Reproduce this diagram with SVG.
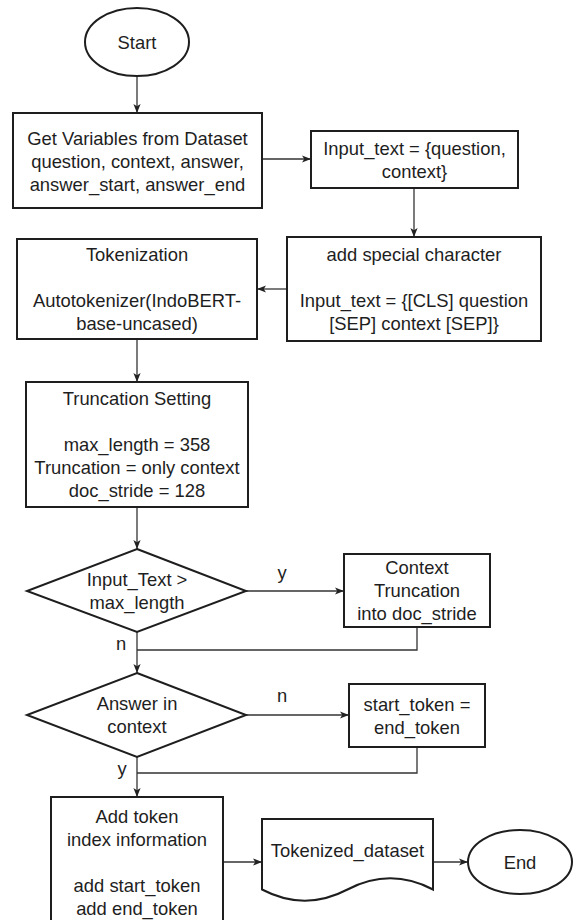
<svg xmlns="http://www.w3.org/2000/svg" width="574" height="920" viewBox="0 0 574 920">
  <style>
    .shape { fill: #ffffff; stroke: #1e1e1e; stroke-width: 2; }
    .edge { fill: none; stroke: #333333; stroke-width: 1.3; }
    .arrow { fill: none; stroke: #333333; stroke-width: 1.3; marker-end: url(#arr); }
    text { font-family: "Liberation Sans", Arial, sans-serif; font-size: 18.4px; fill: #1e1e1e; text-anchor: middle; }
    .lbl { text-anchor: middle; }
  </style>
  <defs>
    <marker id="arr" viewBox="0 0 10 10" refX="10" refY="5" markerWidth="9" markerHeight="9" markerUnits="userSpaceOnUse" orient="auto">
      <path d="M0,1 L10,5 L0,9 L2.5,5 z" fill="#222222"/>
    </marker>
  </defs>
  <rect width="574" height="920" fill="#ffffff"/>

  <!-- connectors -->
  <g id="connectors">
    <path class="arrow" d="M137,76 L137,113"/>
    <path class="arrow" d="M262,159 L311,159"/>
    <path class="arrow" d="M414,188 L414,237"/>
    <path class="arrow" d="M287,289 L257,289"/>
    <path class="arrow" d="M137,339 L137,382"/>
    <path class="arrow" d="M137,507 L137,549"/>
    <path class="arrow" d="M246,591 L344,591"/>
    <path class="edge" d="M417,627 L417,650 L137,650"/>
    <path class="arrow" d="M137,632 L137,673"/>
    <path class="arrow" d="M246,715 L349,715"/>
    <path class="edge" d="M417,747 L417,773 L137,773"/>
    <path class="arrow" d="M137,757 L137,797"/>
    <path class="arrow" d="M223,862 L262,862"/>
    <path class="arrow" d="M433,862 L468,862"/>
    <text x="282" y="579">y</text>
    <text x="121" y="650">n</text>
    <text x="282" y="702">n</text>
    <text x="122" y="775">y</text>
  </g>

  <g id="start">
    <ellipse class="shape" cx="137" cy="42" rx="52" ry="34"/>
    <text x="137" y="48.6">Start</text>
  </g>

  <g id="get-variables">
    <rect class="shape" x="13" y="113" width="249" height="95"/>
    <text x="137.5" y="144.6">Get Variables from Dataset</text>
    <text x="137.5" y="167.6">question, context, answer,</text>
    <text x="137.5" y="190.6">answer_start, answer_end</text>
  </g>

  <g id="input-text">
    <rect class="shape" x="311" y="131" width="207" height="57"/>
    <text x="414.5" y="154.6">Input_text = {question,</text>
    <text x="414.5" y="177.6">context}</text>
  </g>

  <g id="special-character">
    <rect class="shape" x="287" y="237" width="254" height="104"/>
    <text x="414" y="261.1">add special character</text>
    <text x="414" y="307.1">Input_text = {[CLS] question</text>
    <text x="414" y="330.1">[SEP] context [SEP]}</text>
  </g>

  <g id="tokenization">
    <rect class="shape" x="17" y="239" width="240" height="100"/>
    <text x="137" y="261.1">Tokenization</text>
    <text x="137" y="307.1">Autotokenizer(IndoBERT-</text>
    <text x="137" y="330.1">base-uncased)</text>
  </g>

  <g id="truncation-setting">
    <rect class="shape" x="26" y="382" width="222" height="125"/>
    <text x="137" y="405.1">Truncation Setting</text>
    <text x="137" y="451.1">max_length = 358</text>
    <text x="137" y="474.1">Truncation = only context</text>
    <text x="137" y="497.1">doc_stride = 128</text>
  </g>

  <g id="length-check">
    <polygon class="shape" points="137,549 246,591 137,632 27,591"/>
    <text x="137" y="585.6">Input_Text &gt;</text>
    <text x="137" y="608.6">max_length</text>
  </g>

  <g id="context-truncation">
    <rect class="shape" x="344" y="554" width="146" height="73"/>
    <text x="417" y="574.1">Context</text>
    <text x="417" y="597.1">Truncation</text>
    <text x="417" y="620.1">into doc_stride</text>
  </g>

  <g id="answer-check">
    <polygon class="shape" points="137,673 246,715 137,757 27,715"/>
    <text x="137" y="710.1">Answer in</text>
    <text x="137" y="733.1">context</text>
  </g>

  <g id="token-equal">
    <rect class="shape" x="349" y="684" width="136" height="63"/>
    <text x="417" y="710.6">start_token =</text>
    <text x="417" y="733.6">end_token</text>
  </g>

  <g id="add-token-index">
    <rect class="shape" x="51" y="797" width="172" height="132"/>
    <text x="137" y="822.6">Add token</text>
    <text x="137" y="845.6">index information</text>
    <text x="137" y="891.6">add start_token</text>
    <text x="137" y="914.6">add end_token</text>
  </g>

  <g id="tokenized-dataset">
    <path class="shape" d="M262,819 L433,819 L433,889.5 Q390.25,867.1 347.5,889.5 Q304.75,911.9 262,889.5 Z"/>
    <text x="347.5" y="856.6">Tokenized_dataset</text>
  </g>

  <g id="end">
    <ellipse class="shape" cx="520" cy="862" rx="52" ry="32"/>
    <text x="520" y="868.6">End</text>
  </g>
</svg>
